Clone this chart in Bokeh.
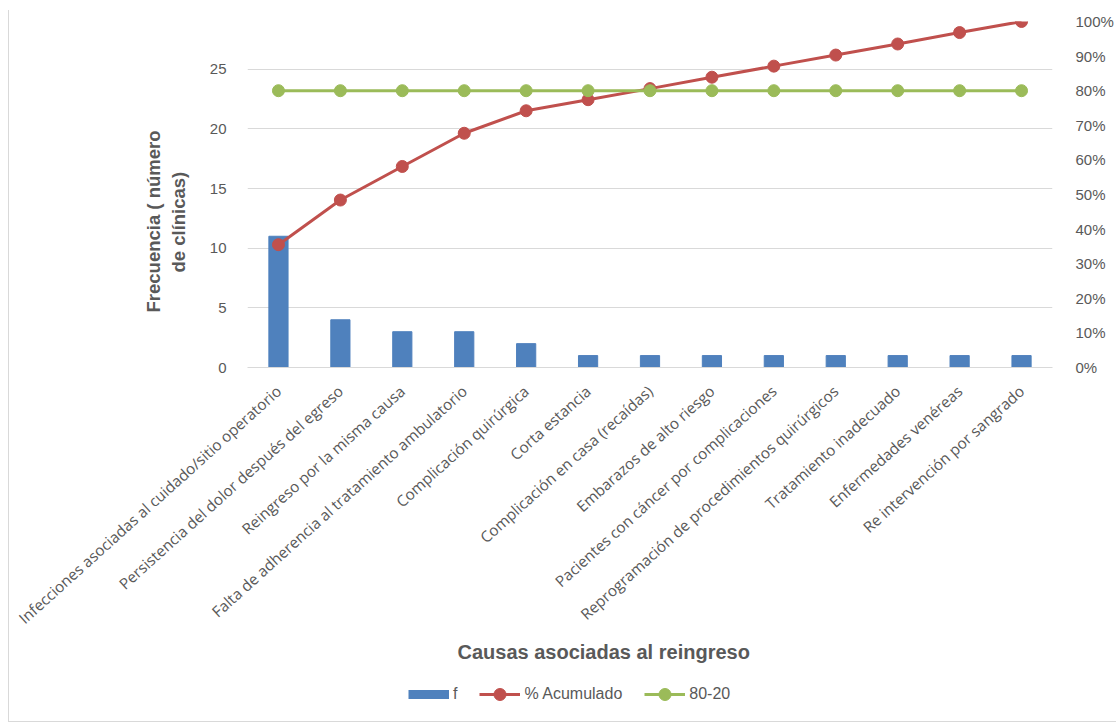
import math

from bokeh.embed import file_html
from bokeh.layouts import column
from bokeh.models import (ColumnDataSource, FactorRange, FixedTicker, Legend,
                          LegendItem, LinearAxis, NumeralTickFormatter, Range1d, Title)
from bokeh.plotting import figure
from bokeh.resources import INLINE

# --- data -------------------------------------------------------------------
causas = [
    "Infecciones asociadas al cuidado/sitio operatorio",
    "Persistencia del dolor después del egreso",
    "Reingreso por la misma causa",
    "Falta de adherencia al tratamiento ambulatorio",
    "Complicación quirúrgica",
    "Corta estancia",
    "Complicación en casa (recaídas)",
    "Embarazos de alto riesgo",
    "Pacientes con cáncer por complicaciones",
    "Reprogramación de procedimientos quirúrgicos",
    "Tratamiento inadecuado",
    "Enfermedades venéreas",
    "Re intervención por sangrado",
]
frecuencia = [11, 4, 3, 3, 2, 1, 1, 1, 1, 1, 1, 1, 1]
acumulado = [35.5, 48.4, 58.1, 67.7, 74.2, 77.4, 80.6, 83.9, 87.1, 90.3, 93.5, 96.8, 100.0]
linea_80_20 = [80, 80, 80, 80, 80, 80, 80, 80, 80, 80, 80, 80, 80]
ticks_frecuencia = [0, 5, 10, 15, 20, 25]
ticks_porcentaje = [0, 0.1, 0.2, 0.3, 0.4, 0.5, 0.6, 0.7, 0.8, 0.9, 1.0]

AZUL = "#4f81bd"
ROJO = "#c0504d"
VERDE = "#9bbb59"
TEXTO = "#595959"
REJILLA = "#d9d9d9"

source = ColumnDataSource(data=dict(
    causa=causas,
    f=frecuencia,
    acum=[v / 100 for v in acumulado],
    meta=[v / 100 for v in linea_80_20],
))

# --- main chart ---------------------------------------------------------------
p = figure(
    width=1107, height=662,
    x_range=FactorRange(*causas, range_padding=0),
    y_range=Range1d(0, 29.0),
    output_backend="svg", toolbar_location=None,
    min_border_left=238, min_border_right=61,
    min_border_top=11, min_border_bottom=305,
)
p.outline_line_color = None
p.background_fill_color = "white"
p.border_fill_color = "white"
p.extra_y_ranges = {"pct": Range1d(0, 1)}

p.vbar(x="causa", top="f", width=0.31, source=source, color=AZUL)
p.line(x="causa", y="acum", source=source, y_range_name="pct",
       line_color=ROJO, line_width=3)
p.scatter(x="causa", y="acum", source=source, y_range_name="pct", size=12, color=ROJO)
p.line(x="causa", y="meta", source=source, y_range_name="pct",
       line_color=VERDE, line_width=3)
p.scatter(x="causa", y="meta", source=source, y_range_name="pct", size=12, color=VERDE)

p.xgrid.grid_line_color = None
p.ygrid.grid_line_color = REJILLA
p.ygrid.ticker = FixedTicker(ticks=ticks_frecuencia)

xa = p.xaxis[0]
xa.axis_line_color = REJILLA
xa.major_tick_line_color = None
xa.minor_tick_line_color = None
xa.major_label_orientation = math.radians(42)
xa.major_label_text_font = "Open Sans"
xa.major_label_text_font_size = "15.3px"
xa.major_label_text_color = TEXTO
xa.major_label_standoff = 15

ya = p.yaxis[0]
ya.ticker = FixedTicker(ticks=ticks_frecuencia)
ya.axis_line_color = None
ya.major_tick_line_color = None
ya.minor_tick_line_color = None
ya.major_label_text_font = "Liberation Sans"
ya.major_label_text_font_size = "15px"
ya.major_label_text_color = TEXTO
ya.major_label_standoff = 15
# blank axis label keeps a gap between the tick numbers and the title
ya.axis_label = " "
ya.axis_label_text_font_size = "8px"
ya.axis_label_standoff = 5

ra = LinearAxis(y_range_name="pct", ticker=FixedTicker(ticks=ticks_porcentaje),
                formatter=NumeralTickFormatter(format="0%"))
ra.axis_line_color = None
ra.major_tick_line_color = None
ra.minor_tick_line_color = None
ra.major_label_text_font = "Liberation Sans"
ra.major_label_text_font_size = "15px"
ra.major_label_text_color = TEXTO
ra.major_label_standoff = 17
p.add_layout(ra, "right")


def titulo(texto, offset, standoff, size):
    return Title(text=texto, align="left", offset=offset, standoff=standoff,
                 text_font="Liberation Sans", text_font_style="bold",
                 text_font_size=size, text_color=TEXTO)


# y-axis title on two lines; the inner line sits next to the tick numbers
p.add_layout(titulo("de clínicas)", 95, 2, "18.5px"), "left")
p.add_layout(titulo("Frecuencia ( número", 55, 2, "18.5px"), "left")

# x-axis title
p.add_layout(titulo("Causas asociadas al reingreso", 210, 0, "20px"), "below")

# --- legend strip -------------------------------------------------------------
q = figure(
    width=1107, height=49,
    x_range=Range1d(0, 1), y_range=Range1d(0, 1),
    x_axis_type=None, y_axis_type=None,
    output_backend="svg", toolbar_location=None, min_border=0,
)
q.outline_line_color = None
q.grid.visible = False
q.background_fill_color = "white"
q.border_fill_color = "white"

# legend-only renderers: a single NaN point each, so nothing shows in the strip
nada = dict(x=[float("nan")], y=[float("nan")])
swatch = q.line(x="x", y="y", source=ColumnDataSource(nada),
                line_color=AZUL, line_width=9, line_cap="butt")
red_line = q.line(x="x", y="y", source=ColumnDataSource(nada), line_color=ROJO, line_width=3)
red_pt = q.scatter(x="x", y="y", source=ColumnDataSource(nada), size=12, color=ROJO)
green_line = q.line(x="x", y="y", source=ColumnDataSource(nada), line_color=VERDE, line_width=3)
green_pt = q.scatter(x="x", y="y", source=ColumnDataSource(nada), size=12, color=VERDE)

legend = Legend(
    items=[
        LegendItem(label="f", renderers=[swatch]),
        LegendItem(label="% Acumulado", renderers=[red_line, red_pt]),
        LegendItem(label="80-20", renderers=[green_line, green_pt]),
    ],
    orientation="horizontal", location=(161, 12),
    glyph_width=41, glyph_height=30, label_standoff=4, label_width=0, spacing=22,
    padding=0, margin=0, border_line_color=None, background_fill_alpha=0,
    label_text_font="Liberation Sans", label_text_font_size="16px",
    label_text_color=TEXTO,
)
q.add_layout(legend, "center")

layout = column(p, q, spacing=0)
layout.styles = {
    "margin-left": "8px", "margin-top": "10px",
    "border-left": "1px solid #d9d9d9", "border-bottom": "1px solid #d9d9d9",
}

open("out.html", "w").write(file_html(layout, INLINE))
